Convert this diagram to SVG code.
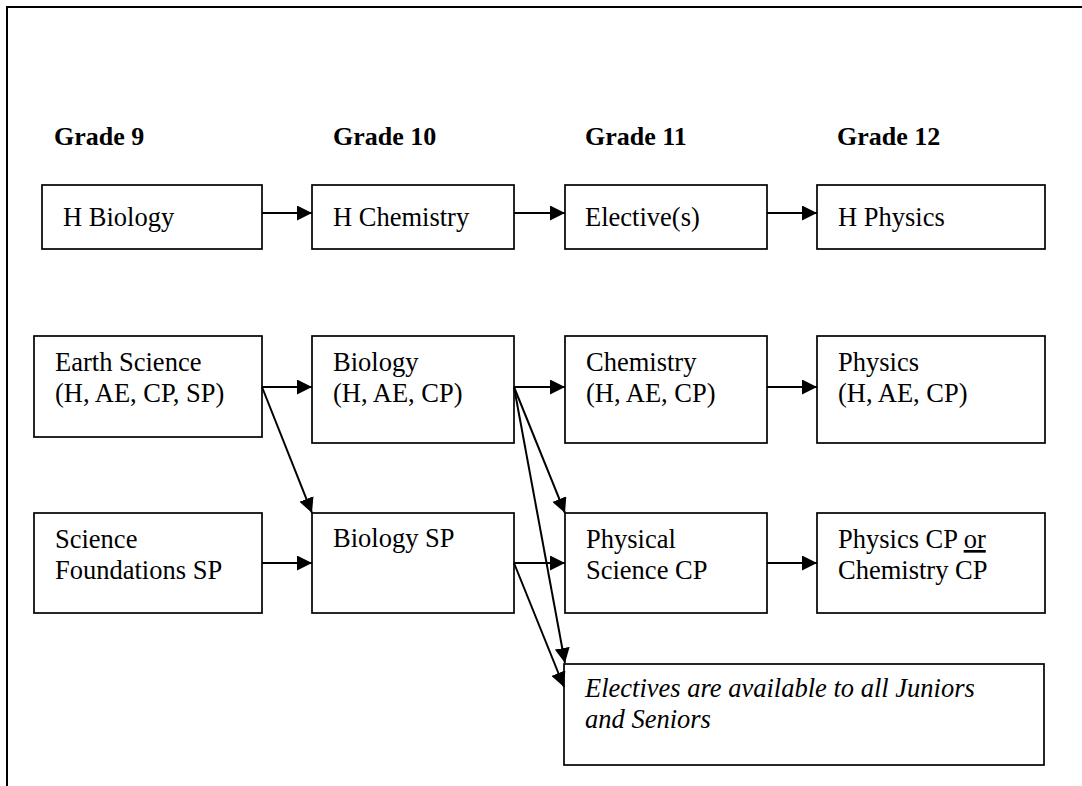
<svg xmlns="http://www.w3.org/2000/svg" width="1082" height="786" viewBox="0 0 1082 786">
<defs>
<marker id="ah" viewBox="0 0 15 15" refX="15" refY="7.5" markerWidth="15" markerHeight="15" markerUnits="userSpaceOnUse" orient="auto">
<path d="M0,0 L15,7.5 L0,15 Z" fill="#000"/>
</marker>
<style>
.box{fill:#fff;stroke:#000;stroke-width:1.7}
.t{font-family:"Liberation Serif","Times New Roman",serif;font-size:26.5px;fill:#000}
.g{font-family:"Liberation Serif","Times New Roman",serif;font-size:26px;font-weight:bold;fill:#000}
.i{font-style:italic}
.c{stroke:#000;stroke-width:2;fill:none;marker-end:url(#ah)}
.frame{stroke:#000;stroke-width:2;fill:none}
</style>
</defs>
<rect width="1082" height="786" fill="#fff"/>
<path class="frame" d="M7,786 L7,7 L1082,7"/>
<g id="headers">
<text class="g" x="54" y="145">Grade 9</text>
<text class="g" x="333" y="145">Grade 10</text>
<text class="g" x="585" y="145">Grade 11</text>
<text class="g" x="837" y="145">Grade 12</text>
</g>
<g id="n-hbio"><rect class="box" x="42" y="185" width="220" height="64"/><text class="t" x="63" y="226">H Biology</text></g>
<g id="n-hchem"><rect class="box" x="312" y="185" width="202" height="64"/><text class="t" x="333" y="226">H Chemistry</text></g>
<g id="n-elect"><rect class="box" x="565" y="185" width="202" height="64"/><text class="t" x="585" y="226">Elective(s)</text></g>
<g id="n-hphys"><rect class="box" x="817" y="185" width="228" height="64"/><text class="t" x="838" y="226">H Physics</text></g>

<g id="n-earth"><rect class="box" x="34" y="336" width="228" height="101"/><text class="t" x="55" y="371">Earth Science</text><text class="t" x="55" y="402">(H, AE, CP, SP)</text></g>
<g id="n-bio"><rect class="box" x="312" y="336" width="202" height="107"/><text class="t" x="333" y="371">Biology</text><text class="t" x="333" y="402">(H, AE, CP)</text></g>
<g id="n-chem"><rect class="box" x="565" y="336" width="202" height="107"/><text class="t" x="586" y="371">Chemistry</text><text class="t" x="586" y="402">(H, AE, CP)</text></g>
<g id="n-phys"><rect class="box" x="817" y="336" width="228" height="107"/><text class="t" x="838" y="371">Physics</text><text class="t" x="838" y="402">(H, AE, CP)</text></g>

<g id="n-sf"><rect class="box" x="34" y="513" width="228" height="100"/><text class="t" x="55" y="548">Science</text><text class="t" x="55" y="579">Foundations SP</text></g>
<g id="n-biosp"><rect class="box" x="312" y="513" width="202" height="100"/><text class="t" x="333" y="547">Biology SP</text></g>
<g id="n-physsci"><rect class="box" x="565" y="513" width="202" height="100"/><text class="t" x="586" y="548">Physical</text><text class="t" x="586" y="579">Science CP</text></g>
<g id="n-physcp"><rect class="box" x="817" y="513" width="228" height="100"/><text class="t" x="838" y="548">Physics CP <tspan text-decoration="underline">or</tspan></text><text class="t" x="838" y="579">Chemistry CP</text></g>

<g id="n-note"><rect class="box" x="564" y="664" width="480" height="101"/><text class="t i" x="585" y="697">Electives are available to all Juniors</text><text class="t i" x="585" y="728">and Seniors</text></g>

<g id="connectors">
<line class="c" x1="262" y1="213" x2="312" y2="213"/>
<line class="c" x1="514" y1="213" x2="565" y2="213"/>
<line class="c" x1="767" y1="213" x2="817" y2="213"/>
<line class="c" x1="262" y1="387" x2="312" y2="387"/>
<line class="c" x1="514" y1="387" x2="565" y2="387"/>
<line class="c" x1="767" y1="387" x2="817" y2="387"/>
<line class="c" x1="262" y1="563" x2="312" y2="563"/>
<line class="c" x1="514" y1="563" x2="565" y2="563"/>
<line class="c" x1="767" y1="563" x2="817" y2="563"/>
<line class="c" x1="262" y1="387" x2="312" y2="513"/>
<line class="c" x1="514" y1="387" x2="565" y2="513"/>
<line class="c" x1="514" y1="387" x2="565" y2="663"/>
<line class="c" x1="514" y1="563" x2="564" y2="687"/>
</g>
</svg>
